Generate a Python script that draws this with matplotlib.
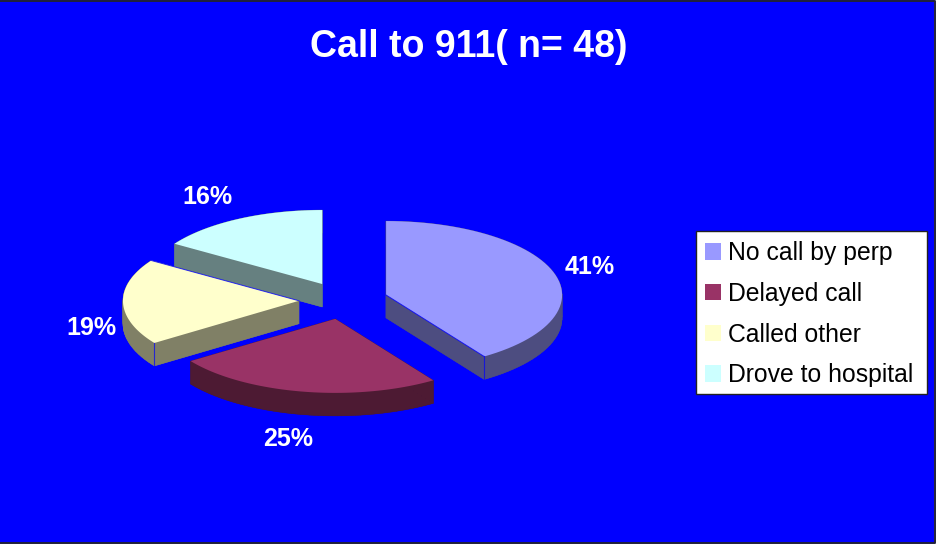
#!/usr/bin/env python3
"""Exploded 3D-look pie of calls to 911, drawn as projected polygons"""

import numpy as np
import matplotlib
matplotlib.use("Agg")
import matplotlib.pyplot as plt
from matplotlib.patches import Patch, Polygon, Rectangle

TITLE = "Call to 911( n= 48)"
CATEGORIES = ["No call by perp", "Delayed call", "Called other", "Drove to hospital"]
PERCENTS = [41, 25, 19, 16]

TOP_COLORS = ["#9999FF", "#993366", "#FFFFCC", "#CCFFFF"]
SIDE_COLORS = ["#4D4D80", "#4D1A33", "#808066", "#668080"]

# layout of the pie, in pixels of the 936x545 picture
CX, CY = 343.5, 300.5
RX, RY = 176, 74
DEPTH = 23
EXPLODE = 0.253
LABEL_R = [1.465, 1.70, 1.43, 1.62]
LABEL_DY = [-2, 15, 26, 2]
DRAW_ORDER = [3, 2, 0, 1]  # back to front

plt.rcParams['font.family'] = ['Liberation Sans', 'DejaVu Sans']

fig = plt.figure(figsize=(9.36, 5.45), dpi=100, facecolor='white')
ax = fig.add_axes([0, 0, 1, 1])
ax.set_xlim(0, 936)
ax.set_ylim(545, 0)
ax.axis('off')

# blue chart area with the dark frame round it
ax.add_patch(Rectangle((0, 0), 934, 542.5, facecolor='#0000FF', edgecolor='none'))
ax.plot([0, 934.5, 934.5, 0], [0.5, 0.5, 543, 543], color='#20203A', lw=1.4)


def project(angle, r=1.0):
    # angle in radians clockwise from the top of the pie
    return r * RX * np.sin(angle), -r * RY * np.cos(angle)


# slice angles from the percents, clockwise from the top
total = sum(PERCENTS)
edges = np.concatenate([[0], np.cumsum(PERCENTS)]) / total * 2 * np.pi

for i in DRAW_ORDER:
    start, end = edges[i], edges[i + 1]
    mid = (start + end) / 2
    ox, oy = project(mid, EXPLODE)
    apex = np.array([CX + ox, CY + oy])

    t = np.linspace(start, end, 60)
    arc_x, arc_y = project(t)
    top = np.column_stack([apex[0] + arc_x, apex[1] + arc_y])
    top = np.vstack([apex, top])
    bottom = top + [0, DEPTH]

    # side walls first, then the top face over them
    ax.add_patch(Polygon(bottom, closed=True, facecolor=SIDE_COLORS[i], edgecolor='none'))
    for a, b in zip(range(len(top)), list(range(1, len(top))) + [0]):
        quad = [top[a], top[b], bottom[b], bottom[a]]
        ax.add_patch(Polygon(quad, closed=True, facecolor=SIDE_COLORS[i],
                             edgecolor=SIDE_COLORS[i], lw=0.3))
    ax.add_patch(Polygon(top, closed=True, facecolor=TOP_COLORS[i], edgecolor='none'))

    # thin blue edges: closing radius, and the front corner of the two lit walls
    if i == 0:
        corner = top[-1]
    elif i == 2:
        corner = top[1]
    else:
        corner = None
    if corner is not None:
        ax.plot([apex[0], top[-1][0]], [apex[1], top[-1][1]], color='#0000FF', lw=0.7, alpha=0.8)
        ax.plot([corner[0], corner[0]], [corner[1], corner[1] + DEPTH], color='#0000FF',
                lw=0.8, alpha=0.7)

    lx, ly = project(mid, LABEL_R[i])
    ax.text(CX + lx, CY + ly + LABEL_DY[i], f"{PERCENTS[i]}%", color='white',
            fontsize=18, fontweight='bold', ha='center', va='center')

ax.text(469, 47, TITLE, color='white', fontsize=27, fontweight='bold',
        ha='center', va='center')

# legend box is fixed, the entries sit inside it
ax.add_patch(Rectangle((696, 231), 231, 163, facecolor='white', edgecolor='#222222', lw=1.0))
handles = [Patch(facecolor=c, edgecolor='none') for c in TOP_COLORS]
ax.legend(handles, CATEGORIES, loc='upper left', bbox_to_anchor=(705, 241),
          bbox_transform=ax.transData, borderaxespad=0, fontsize=17.8,
          handlelength=0.65, handleheight=0.65, handletextpad=0.28,
          labelspacing=0.68, borderpad=0, frameon=False)

plt.savefig('out.png', dpi=100)
